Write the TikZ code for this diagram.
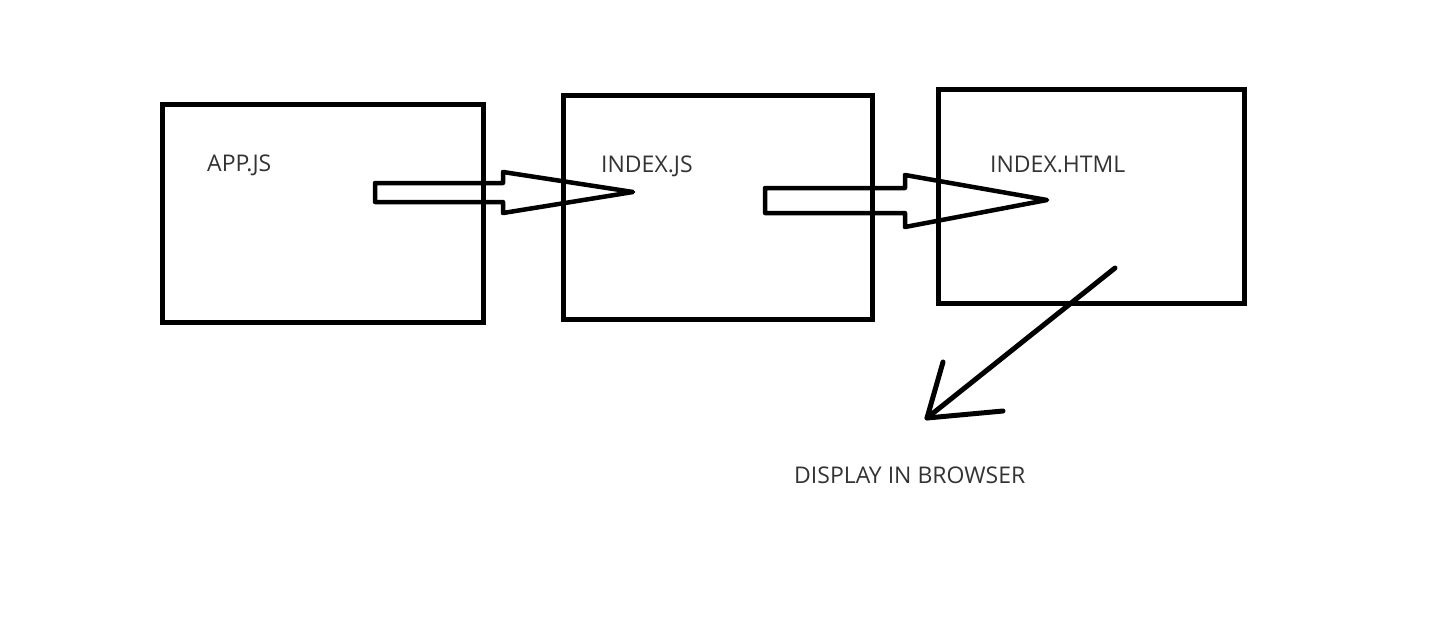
\documentclass[tikz,border=0pt]{standalone}
\usepackage{fontspec}
\setmainfont{Open Sans}
\begin{document}
\begin{tikzpicture}[x=1pt,y=-1pt,
  box/.style={draw=black,line width=5pt,inner sep=0pt},
  blockarrow/.style={draw=black,line width=4.5pt,line join=round,fill=none},
  lbl/.style={anchor=base west,inner sep=0pt,text=black!80,font=\fontsize{23}{27}\selectfont},
  pen/.style={draw=black,line width=5pt,line cap=round,line join=round}]
\useasboundingbox[fill=white] (0,0) rectangle (1443,633);
% boxes
\node[box,minimum width=321pt,minimum height=218pt] (app) at (322.5,213) {};
\node[box,minimum width=309pt,minimum height=224pt] (idxjs) at (717.5,207) {};
\node[box,minimum width=306pt,minimum height=214pt] (idxhtml) at (1091,196) {};
% labels
\node[lbl] (tapp) at (207,171) {APP.JS};
\node[lbl] (tjs) at (601,172) {INDEX.JS};
\node[lbl] (thtml) at (990,172) {INDEX.HTML};
\node[lbl] (tdisp) at (794,483) {DISPLAY IN BROWSER};
% block arrow 1
\coordinate (a1tip) at (633,192);
\draw[blockarrow] (375,183) -- (503,183) -- (503,172) -- (a1tip) -- (503,213) -- (503,202) -- (375,202) -- cycle;
% block arrow 2
\coordinate (a2tip) at (1047,200);
\draw[blockarrow] (765,188) -- (905,188) -- (905,175) -- (a2tip) -- (905,227) -- (905,213) -- (765,213) -- cycle;
% diagonal arrow
\coordinate (dstart) at (1115,268);
\coordinate (dtip) at (927,418);
\draw[pen] (dstart) -- (dtip);
\draw[pen] (943,362) -- (dtip) -- (1003,411);
\end{tikzpicture}
\end{document}
